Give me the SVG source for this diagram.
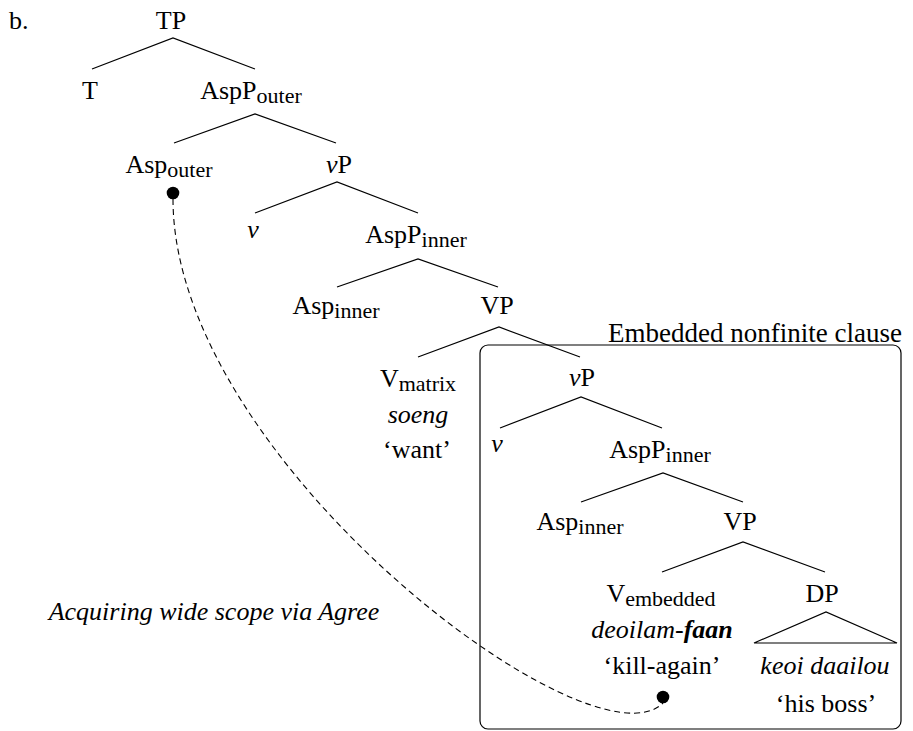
<svg xmlns="http://www.w3.org/2000/svg" width="913" height="731" viewBox="0 0 913 731">
  <style>
    text { font-family: "Liberation Serif", "DejaVu Serif", serif; font-size: 26px; fill: #000; }
    .lbl { text-anchor: middle; }
    .it { font-style: italic; }
    .bi { font-style: italic; font-weight: bold; }
    .sub { font-size: 22px; }
    .edge { stroke: #000; stroke-width: 1.2; fill: none; }
    .box { stroke: #000; stroke-width: 1.2; fill: none; }
    .agree { stroke: #000; stroke-width: 1.1; fill: none; stroke-dasharray: 6 4; }
    .dot { fill: #000; }
  </style>

  <!-- example number -->
  <text x="9" y="29">b.</text>

  <!-- frame around the embedded clause -->
  <g id="embedded-clause">
    <rect class="box" x="480" y="345" width="421" height="384" rx="8"/>
    <text class="lbl" x="755" y="342" style="font-size:27px">Embedded nonfinite clause</text>
  </g>

  <!-- tree branches -->
  <g id="connectors">
    <path class="edge" d="M92,69 L173,38 L255,69"/>
    <path class="edge" d="M174,143 L255,114 L336,143"/>
    <path class="edge" d="M255,213 L337,182 L418,213"/>
    <path class="edge" d="M337,287 L418,259 L498,287"/>
    <path class="edge" d="M418,357 L499,327 L580,357"/>
    <path class="edge" d="M500,428 L581,397 L662,428"/>
    <path class="edge" d="M581,502 L663,473 L743,502"/>
    <path class="edge" d="M662,572 L743,542 L825,572"/>
    <path class="edge" d="M754,643 L826,612 L897,643 Z"/>
    <!-- Agree relation -->
    <path class="agree" d="M173,199 C173,460 592,774 663,703"/>
  </g>

  <g id="TP"><text class="lbl" x="171" y="29">TP</text></g>
  <g id="T"><text class="lbl" x="90" y="99">T</text></g>
  <g id="AspP-outer"><text class="lbl" x="251" y="99">AspP<tspan class="sub" dy="4">outer</tspan></text></g>
  <g id="Asp-outer">
    <text class="lbl" x="169" y="173">Asp<tspan class="sub" dy="4">outer</tspan></text>
    <circle class="dot" cx="173" cy="193" r="6.3"/>
  </g>
  <g id="vP-matrix"><text class="lbl" x="339" y="173"><tspan class="it">ν</tspan>P</text></g>
  <g id="v-matrix"><text class="lbl it" x="253" y="238">ν</text></g>
  <g id="AspP-inner-matrix"><text class="lbl" x="416" y="243">AspP<tspan class="sub" dy="4">inner</tspan></text></g>
  <g id="Asp-inner-matrix"><text class="lbl" x="336" y="314">Asp<tspan class="sub" dy="4">inner</tspan></text></g>
  <g id="VP-matrix"><text class="lbl" x="497" y="314">VP</text></g>
  <g id="V-matrix">
    <text class="lbl" x="418" y="387">V<tspan class="sub" dy="4">matrix</tspan></text>
    <text class="lbl it" x="418" y="423">soeng</text>
    <text class="lbl" x="417" y="458">‘want’</text>
  </g>
  <g id="vP-embedded"><text class="lbl" x="582" y="386"><tspan class="it">ν</tspan>P</text></g>
  <g id="v-embedded"><text class="lbl it" x="497" y="452">ν</text></g>
  <g id="AspP-inner-embedded"><text class="lbl" x="660" y="458">AspP<tspan class="sub" dy="4">inner</tspan></text></g>
  <g id="Asp-inner-embedded"><text class="lbl" x="580" y="530">Asp<tspan class="sub" dy="4">inner</tspan></text></g>
  <g id="VP-embedded"><text class="lbl" x="740" y="530">VP</text></g>
  <g id="V-embedded">
    <text class="lbl" x="661" y="602">V<tspan class="sub" dy="4">embedded</tspan></text>
    <text class="lbl" x="662" y="638"><tspan class="it">deoilam-</tspan><tspan class="bi">faan</tspan></text>
    <text class="lbl" x="662" y="674">‘kill-again’</text>
    <circle class="dot" cx="663" cy="697" r="6.3"/>
  </g>
  <g id="DP">
    <text class="lbl" x="822" y="602">DP</text>
    <text class="lbl it" x="825" y="674">keoi daailou</text>
    <text class="lbl" x="826" y="712">‘his boss’</text>
  </g>

  <g id="agree-label"><text class="lbl it" x="214" y="620">Acquiring wide scope via Agree</text></g>
</svg>
